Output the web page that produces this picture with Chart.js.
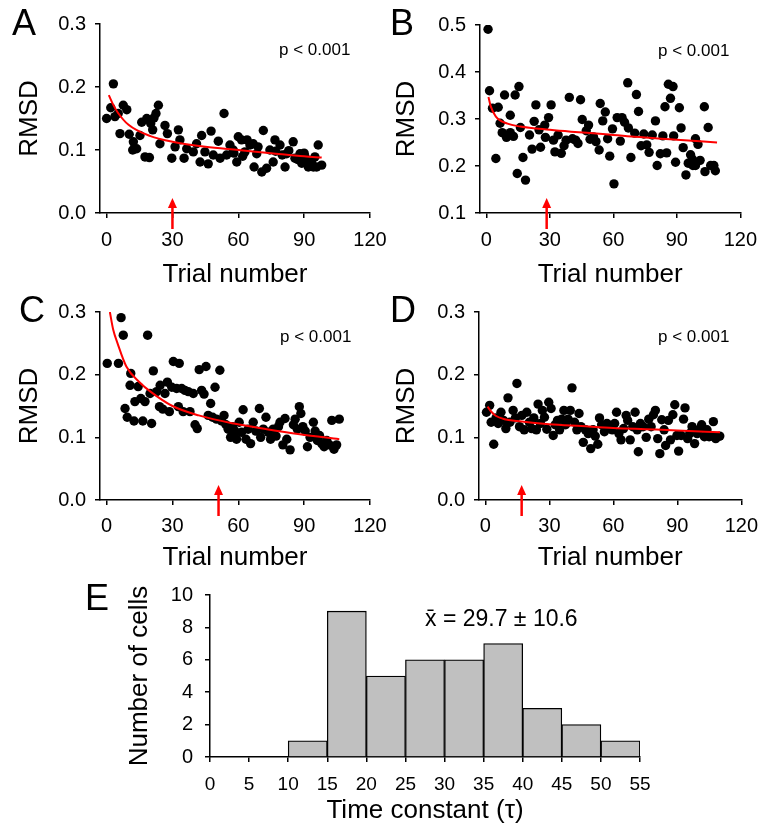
<!DOCTYPE html>
<html>
<head>
<meta charset="utf-8">
<script src="https://cdn.jsdelivr.net/npm/chart.js@4.4.0/dist/chart.umd.min.js"></script>
<style>
  body { margin: 0; background: #fff; }
  #fig { position: relative; width: 767px; height: 835px; background: #fff; overflow: hidden; }
  #fig canvas { position: absolute; }
</style>
</head>
<body>
<div id="fig">
  <canvas id="chartA" width="400" height="290" style="left:0;top:0"></canvas>
  <canvas id="chartB" width="387" height="290" style="left:380px;top:0"></canvas>
  <canvas id="chartC" width="400" height="290" style="left:0;top:288px"></canvas>
  <canvas id="chartD" width="387" height="290" style="left:380px;top:288px"></canvas>
  <canvas id="chartE" width="687" height="275" style="left:80px;top:560px"></canvas>
</div>
<script>
// tick labels
const trialTicks = [0, 30, 60, 90, 120];
const rmsdTicks = [0, 0.1, 0.2, 0.3];
const rmsdTicksB = [0.1, 0.2, 0.3, 0.4, 0.5];
const tauTicks = [0, 5, 10, 15, 20, 25, 30, 35, 40, 45, 50, 55];
const cellTicks = [0, 2, 4, 6, 8, 10];

// panel A
const trialsA = [0, 1.9, 3.1, 3.8, 5.3, 6.1, 7.6, 9.2, 10.3, 11.9, 12.2, 13.7, 15.2, 16, 17.5, 18.3, 19.5, 20.1, 21, 21.6, 22.5, 23.6, 24.3, 26.6, 27.7, 29.7, 31.2, 32.7, 33.4, 35.3, 36.5, 39.5, 41, 42.6, 43.3, 44.8, 46.3, 47.6, 48.6, 50.9, 51.7, 53.5, 54.7, 56.2, 57.7, 58, 59.3, 60, 61.5, 62, 63, 64, 65.3, 66.8, 67.2, 68.4, 69, 70.7, 71.4, 72.9, 74.4, 75.9, 76.7, 77, 79, 80, 81.3, 82, 83, 85, 85.8, 87, 88.1, 88.9, 90, 90.4, 91.9, 92, 93.4, 94.2, 94.9, 95.7, 96.4, 98];
const rmsdA = [0.150, 0.167, 0.205, 0.153, 0.158, 0.126, 0.171, 0.164, 0.125, 0.100, 0.113, 0.102, 0.123, 0.144, 0.089, 0.150, 0.088, 0.142, 0.132, 0.151, 0.158, 0.171, 0.110, 0.139, 0.126, 0.087, 0.105, 0.132, 0.116, 0.087, 0.102, 0.097, 0.110, 0.081, 0.123, 0.097, 0.078, 0.130, 0.092, 0.114, 0.087, 0.158, 0.092, 0.108, 0.100, 0.095, 0.081, 0.121, 0.116, 0.090, 0.097, 0.116, 0.108, 0.110, 0.073, 0.094, 0.105, 0.065, 0.131, 0.071, 0.100, 0.081, 0.116, 0.098, 0.108, 0.092, 0.073, 0.094, 0.099, 0.113, 0.087, 0.085, 0.094, 0.079, 0.095, 0.089, 0.073, 0.082, 0.081, 0.073, 0.089, 0.073, 0.108, 0.076];
const fitXA = [1, 3, 5, 10, 20, 30, 45, 60, 75, 90, 98];
const fitYA = [0.187, 0.172, 0.160, 0.140, 0.122, 0.113, 0.105, 0.100, 0.095, 0.090, 0.088];

// panel B
const trialsB = [0.8, 1.5, 2.9, 4.5, 5.6, 6.5, 7.5, 8.6, 9.5, 11.3, 11.3, 12.8, 13.6, 14.6, 15.4, 16.1, 17.3, 18.5, 20.4, 21.6, 22.6, 23.4, 24.9, 25.6, 27.6, 27.9, 29.4, 30.6, 31.7, 32.4, 33.9, 35.4, 36.7, 37.7, 39.2, 40.7, 42.2, 43.3, 44.5, 45.3, 47.2, 48.3, 49, 50.6, 51.8, 53.3, 53.8, 55, 56.2, 57.3, 58.3, 59.6, 60.3, 61.8, 63.3, 64.1, 65.3, 66.8, 67.1, 68.3, 70.1, 70.9, 71.9, 73.1, 74.4, 75.8, 76.9, 78.4, 79.9, 80.7, 82.2, 83.4, 84.4, 85.2, 86, 87, 88.2, 88.5, 89.4, 91.2, 92, 93, 94.3, 95.4, 96.5, 97.3, 97.6, 98.8, 98.8, 100, 101, 103, 103.3, 104.8, 106, 107.5, 108.2];
const rmsdB = [0.491, 0.360, 0.323, 0.216, 0.325, 0.291, 0.271, 0.351, 0.261, 0.308, 0.271, 0.263, 0.351, 0.184, 0.369, 0.282, 0.218, 0.170, 0.266, 0.236, 0.295, 0.330, 0.277, 0.240, 0.287, 0.261, 0.303, 0.330, 0.255, 0.230, 0.266, 0.227, 0.243, 0.255, 0.346, 0.258, 0.255, 0.248, 0.341, 0.299, 0.275, 0.287, 0.257, 0.262, 0.252, 0.234, 0.333, 0.296, 0.315, 0.258, 0.221, 0.279, 0.162, 0.303, 0.253, 0.303, 0.293, 0.377, 0.281, 0.218, 0.270, 0.352, 0.316, 0.243, 0.268, 0.245, 0.229, 0.266, 0.296, 0.201, 0.226, 0.264, 0.326, 0.228, 0.374, 0.344, 0.369, 0.264, 0.208, 0.324, 0.281, 0.239, 0.181, 0.206, 0.224, 0.215, 0.201, 0.258, 0.201, 0.246, 0.212, 0.326, 0.188, 0.282, 0.201, 0.201, 0.190];
const fitXB = [1, 2, 4.5, 10, 16, 30, 40, 55, 70, 90, 109];
const fitYB = [0.347, 0.328, 0.305, 0.290, 0.284, 0.277, 0.273, 0.268, 0.262, 0.256, 0.250];

// panel C
const trialsC = [0.3, 5.4, 6.6, 7.6, 8.4, 9.4, 10.7, 11, 12.5, 12.9, 14.4, 15.6, 16.5, 17.5, 18.7, 19.8, 20.5, 21.3, 22.8, 24.1, 24.4, 25.6, 26.6, 27.7, 28.6, 29.7, 30.4, 31.9, 32.7, 33.1, 34.2, 34.9, 35.7, 37.2, 38, 39.5, 40.3, 41.3, 42.2, 43.3, 44.4, 45.3, 46.3, 47.4, 48.3, 49.4, 50.1, 51.6, 52.4, 53.5, 54.4, 55.4, 56.5, 57.4, 58.5, 59.2, 60.4, 61.5, 62.2, 63.5, 64.5, 65.6, 66.8, 68, 69.6, 70.2, 71.4, 72.6, 73.7, 74.7, 75.9, 77.2, 78.3, 79, 80.3, 81.3, 82.1, 83.6, 85.1, 85.9, 86.9, 87.8, 88.5, 89.4, 90.5, 91.5, 92.7, 94.2, 95, 96, 97, 98, 99.1, 100.3, 101.5, 102.6, 103.6, 104.8, 106];
const rmsdC = [0.218, 0.218, 0.291, 0.263, 0.146, 0.132, 0.183, 0.202, 0.126, 0.157, 0.181, 0.162, 0.126, 0.157, 0.263, 0.170, 0.122, 0.206, 0.173, 0.149, 0.183, 0.145, 0.170, 0.188, 0.141, 0.180, 0.221, 0.178, 0.149, 0.218, 0.178, 0.141, 0.175, 0.173, 0.141, 0.170, 0.120, 0.114, 0.208, 0.175, 0.169, 0.213, 0.135, 0.154, 0.132, 0.180, 0.129, 0.207, 0.126, 0.135, 0.120, 0.113, 0.100, 0.117, 0.110, 0.097, 0.124, 0.108, 0.144, 0.097, 0.113, 0.090, 0.124, 0.110, 0.146, 0.100, 0.113, 0.132, 0.108, 0.097, 0.113, 0.102, 0.117, 0.124, 0.088, 0.130, 0.097, 0.080, 0.120, 0.129, 0.113, 0.149, 0.138, 0.117, 0.110, 0.085, 0.100, 0.124, 0.110, 0.095, 0.103, 0.090, 0.085, 0.095, 0.088, 0.127, 0.081, 0.088, 0.129];
const fitXC = [1.5, 3, 5, 9, 15, 20, 30, 42, 58, 73, 88, 106];
const fitYC = [0.300, 0.272, 0.250, 0.213, 0.188, 0.173, 0.150, 0.135, 0.122, 0.113, 0.105, 0.097];

// panel D
const trialsD = [0.5, 2, 2.7, 3.9, 5, 6, 7.3, 8.5, 9.6, 10.6, 11.5, 13, 14.1, 14.8, 16, 17.1, 18.2, 19.4, 20.6, 21.7, 22.7, 23.9, 24.7, 25.8, 26.7, 27.7, 28.8, 29.7, 30.8, 31.8, 32.7, 33.8, 34.8, 35.8, 36.8, 37.6, 38.8, 39.8, 40.6, 41.8, 42.9, 43.9, 44.8, 45.9, 46.9, 48.2, 49.4, 50.5, 51.5, 52.7, 53.5, 54.5, 55.8, 57, 58, 59.5, 60.6, 61.5, 62.6, 63.6, 64.8, 66, 66.7, 67.9, 69.1, 70.2, 71.2, 71.7, 72.7, 73.9, 75.4, 76.6, 77.7, 78.8, 79.7, 80.8, 81.8, 82.7, 83.8, 84.5, 85.8, 86.8, 87.9, 88.8, 89.8, 90.6, 91.8, 92.9, 93.6, 94.8, 95.8, 96.9, 98.1, 99.3, 100.4, 101.4, 102.7, 103.9, 104.9, 106, 106.9, 108, 109, 109.9];
const rmsdD = [0.140, 0.151, 0.124, 0.089, 0.131, 0.122, 0.140, 0.127, 0.114, 0.163, 0.124, 0.143, 0.131, 0.186, 0.117, 0.135, 0.112, 0.140, 0.124, 0.114, 0.131, 0.112, 0.153, 0.122, 0.143, 0.132, 0.113, 0.156, 0.146, 0.103, 0.120, 0.127, 0.112, 0.129, 0.143, 0.120, 0.129, 0.143, 0.179, 0.124, 0.112, 0.138, 0.117, 0.092, 0.112, 0.106, 0.082, 0.112, 0.102, 0.089, 0.131, 0.120, 0.109, 0.122, 0.117, 0.112, 0.122, 0.140, 0.106, 0.096, 0.114, 0.135, 0.127, 0.096, 0.117, 0.140, 0.112, 0.077, 0.122, 0.117, 0.100, 0.129, 0.117, 0.136, 0.143, 0.098, 0.074, 0.128, 0.112, 0.087, 0.127, 0.096, 0.136, 0.152, 0.103, 0.078, 0.103, 0.129, 0.147, 0.098, 0.106, 0.117, 0.090, 0.106, 0.113, 0.120, 0.101, 0.112, 0.101, 0.102, 0.125, 0.098, 0.101, 0.102];
const fitXD = [1, 3, 5, 9, 15, 30, 45, 60, 75, 90, 110];
const fitYD = [0.149, 0.140, 0.134, 0.129, 0.126, 0.121, 0.118, 0.115, 0.113, 0.111, 0.108];

// red arrows (trial number)
const arrowTrials = { A: 30, B: 28.5, C: 51, D: 17 };

// panel E histogram
const binStart = [0, 5, 10, 15, 20, 25, 30, 35, 40, 45, 50];
const binWidth = 5;
const cellCounts = [0, 0, 1, 9, 5, 6, 6, 7, 3, 2, 1];

Chart.defaults.font.family = "'Liberation Sans', Arial, sans-serif";
Chart.defaults.color = "#000";

const panelMarks = {
  id: "panelMarks",
  afterDraw(chart, args, o) {
    const ctx = chart.ctx;
    ctx.save();
    ctx.fillStyle = "#000";
    ctx.textAlign = "left";
    ctx.textBaseline = "alphabetic";
    ctx.font = "36px 'Liberation Sans', Arial, sans-serif";
    ctx.fillText(o.letter, o.letterX, o.letterY);
    if (o.note) {
      ctx.font = o.noteSize + "px 'Liberation Sans', Arial, sans-serif";
      ctx.fillText(o.note, o.noteX, o.noteY);
    }
    if (o.arrowAt !== undefined) {
      const x = chart.scales.x.getPixelForValue(o.arrowAt);
      const b = chart.chartArea.bottom;
      ctx.strokeStyle = "#ff0000";
      ctx.fillStyle = "#ff0000";
      ctx.lineWidth = 2.5;
      ctx.beginPath();
      ctx.moveTo(x, b + 16);
      ctx.lineTo(x, b - 7);
      ctx.stroke();
      ctx.beginPath();
      ctx.moveTo(x, b - 15);
      ctx.lineTo(x - 4.5, b - 5);
      ctx.lineTo(x + 4.5, b - 5);
      ctx.closePath();
      ctx.fill();
    }
    ctx.restore();
  },
};

function axis(fontSize, pad) {
  return {
    grid: { display: true, drawOnChartArea: false, drawTicks: true, tickLength: 5, color: "#000", lineWidth: 1.5 },
    border: { display: true, color: "#000", width: 1.5 },
    ticks: { color: "#000", font: { size: fontSize }, padding: pad, maxRotation: 0, autoSkip: false },
  };
}

function toPoints(xs, ys) {
  return xs.map((x, i) => ({ x: x, y: ys[i] }));
}

function trialChart(id, trials, rmsd, fitX, fitY, yTicks, g) {
  const xAxis = axis(20, g.xPad);
  const yAxis = axis(20, 9);
  return new Chart(document.getElementById(id), {
    type: "scatter",
    data: {
      datasets: [
        {
          data: toPoints(fitX, fitY),
          showLine: true,
          pointRadius: 0,
          borderColor: "#ff0000",
          borderWidth: 2,
          cubicInterpolationMode: "monotone",
          fill: false,
        },
        {
          data: toPoints(trials, rmsd),
          pointRadius: 4.7,
          backgroundColor: "#000",
          borderWidth: 0,
        },
      ],
    },
    options: {
      responsive: false,
      animation: false,
      devicePixelRatio: 1,
      layout: { padding: { left: 0, top: g.top, right: g.right, bottom: 0 } },
      plugins: {
        legend: { display: false },
        tooltip: { enabled: false },
        panelMarks: {
          letter: g.letter, letterX: g.letterX, letterY: g.letterY,
          note: "p < 0.001", noteSize: 17, noteX: g.noteX, noteY: g.noteY,
          arrowAt: g.arrowAt,
        },
      },
      scales: {
        x: {
          ...xAxis,
          type: "linear",
          min: -3,
          max: 120,
          afterBuildTicks: (s) => { s.ticks = trialTicks.map((v) => ({ value: v })); },
          afterFit: (s) => { s.height = g.xHeight; },
          title: { display: true, text: "Trial number", color: "#000", font: { size: 26 }, padding: { top: 0, bottom: g.xTitlePad } },
        },
        y: {
          ...yAxis,
          min: yTicks[0],
          max: yTicks[yTicks.length - 1],
          ticks: { ...yAxis.ticks, callback: (v) => v.toFixed(1) },
          afterBuildTicks: (s) => { s.ticks = yTicks.map((v) => ({ value: v })); },
          afterFit: (s) => { s.width = g.yWidth; },
          title: { display: true, text: "RMSD", color: "#000", font: { size: 26 }, padding: { top: g.yTitlePad, bottom: 0 } },
        },
      },
    },
    plugins: [panelMarks],
  });
}

trialChart("chartA", trialsA, rmsdA, fitXA, fitYA, rmsdTicks, {
  top: 24, right: 30, yWidth: 100, xHeight: 77, xPad: 10, xTitlePad: 0, yTitlePad: 14,
  letter: "A", letterX: 12, letterY: 35, noteX: 279, noteY: 55, arrowAt: arrowTrials.A,
});
trialChart("chartB", trialsB, rmsdB, fitXB, fitYB, rmsdTicksB, {
  top: 25, right: 19, yWidth: 100, xHeight: 77, xPad: 10, xTitlePad: 0, yTitlePad: 11,
  letter: "B", letterX: 10, letterY: 35, noteX: 278, noteY: 56, arrowAt: arrowTrials.B,
});
trialChart("chartC", trialsC, rmsdC, fitXC, fitYC, rmsdTicks, {
  top: 24, right: 30, yWidth: 100, xHeight: 78, xPad: 9, xTitlePad: 5, yTitlePad: 14,
  letter: "C", letterX: 19, letterY: 34, noteX: 280, noteY: 54, arrowAt: arrowTrials.C,
});
trialChart("chartD", trialsD, rmsdD, fitXD, fitYD, rmsdTicks, {
  top: 24, right: 19, yWidth: 99, xHeight: 78, xPad: 9, xTitlePad: 5, yTitlePad: 11,
  letter: "D", letterX: 10, letterY: 34, noteX: 278, noteY: 54, arrowAt: arrowTrials.D,
});

const xE = axis(19, 11.5);
const yE = axis(20, 12);
new Chart(document.getElementById("chartE"), {
  type: "bar",
  data: {
    datasets: [
      {
        data: binStart.map((b, i) => ({ x: b + binWidth / 2, y: cellCounts[i] })),
        backgroundColor: "#c0c0c0",
        borderColor: "#000",
        borderWidth: 1.3,
        barPercentage: 1,
        categoryPercentage: 1,
      },
    ],
  },
  options: {
    responsive: false,
    animation: false,
    devicePixelRatio: 1,
    layout: { padding: { left: 0, top: 35, right: 127, bottom: 0 } },
    plugins: {
      legend: { display: false },
      tooltip: { enabled: false },
      panelMarks: { letter: "E", letterX: 5, letterY: 50, note: "x\u0304 = 29.7 \u00b1 10.6", noteSize: 23, noteX: 345, noteY: 66 },
    },
    scales: {
      x: {
        ...xE,
        type: "linear",
        offset: false,
        min: 0,
        max: 55,
        grid: { ...xE.grid, offset: false },
        afterBuildTicks: (s) => { s.ticks = tauTicks.map((v) => ({ value: v })); },
        afterFit: (s) => { s.height = 78; },
        title: { display: true, text: "Time constant (\u03c4)", color: "#000", font: { size: 26 }, padding: { top: 0, bottom: 9 } },
      },
      y: {
        ...yE,
        min: 0,
        max: 10,
        afterBuildTicks: (s) => { s.ticks = cellTicks.map((v) => ({ value: v })); },
        afterFit: (s) => { s.width = 130; },
        title: { display: true, text: "Number of cells", color: "#000", font: { size: 26 }, padding: { top: 44, bottom: 0 } },
      },
    },
  },
  plugins: [panelMarks],
});
</script>
</body>
</html>
